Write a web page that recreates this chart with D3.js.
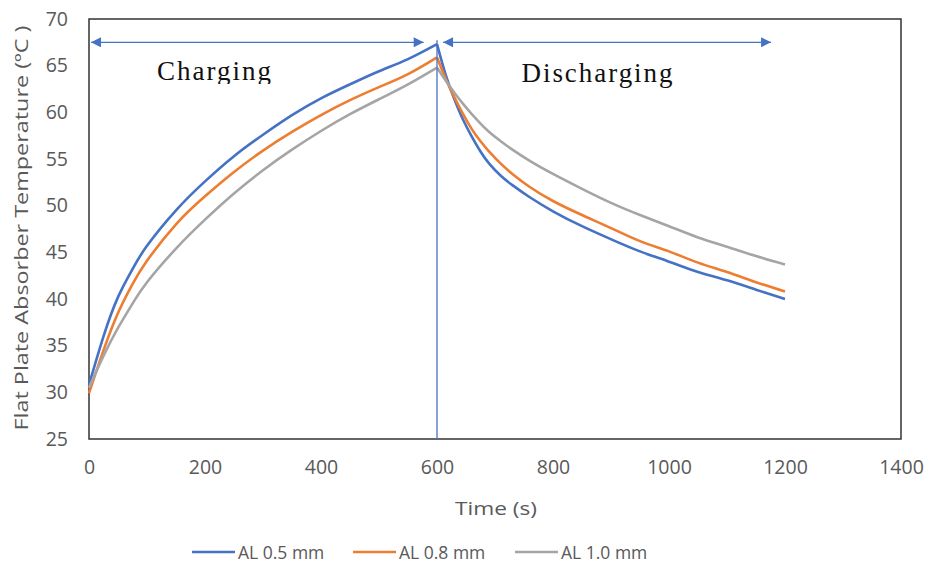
<!DOCTYPE html>
<html>
<head>
<meta charset="utf-8">
<style>
  body { margin: 0; background: #fff; }
  .tick text { fill: #595959; font-family: "Open Sans", sans-serif; font-size: 19.5px; }
</style>
<script src="https://cdn.jsdelivr.net/npm/d3@7"></script>
</head>
<body>
<svg id="chart" width="927" height="563"></svg>
<script>
const times = [0, 25, 50, 75, 100, 150, 200, 250, 300, 350, 400, 450, 500, 550, 600,
  615, 630, 645, 660, 675, 690, 710, 730, 760, 800, 850, 900, 950, 1000, 1050, 1100, 1150, 1200];

const al05 = [30.8, 36.0, 40.2, 43.2, 45.7, 49.5, 52.6, 55.3, 57.6, 59.7, 61.5, 63.0, 64.4, 65.7, 67.3,
  64.0, 61.4, 59.2, 57.4, 55.8, 54.5, 53.2, 52.2, 50.9, 49.4, 47.8, 46.4, 45.1, 44.0, 42.9, 42.0, 41.0, 40.0];
const al08 = [29.9, 34.5, 38.5, 41.6, 44.1, 48.0, 51.0, 53.6, 55.9, 57.9, 59.7, 61.3, 62.7, 64.1, 65.9,
  63.6, 61.6, 59.8, 58.2, 56.9, 55.8, 54.5, 53.4, 52.0, 50.5, 49.0, 47.6, 46.2, 45.1, 43.9, 42.9, 41.8, 40.8];
const al10 = [30.5, 33.9, 36.9, 39.5, 41.8, 45.4, 48.5, 51.3, 53.8, 56.0, 58.0, 59.8, 61.4, 63.0, 64.8,
  63.4, 62.1, 60.9, 59.8, 58.8, 57.9, 56.9, 56.0, 54.8, 53.4, 51.8, 50.3, 49.0, 47.8, 46.6, 45.6, 44.6, 43.7];

const seriesNames = ["AL 0.5 mm", "AL 0.8 mm", "AL 1.0 mm"];
const seriesColors = ["#4472C4", "#ED7D31", "#A5A5A5"];

const xTicks = [0, 200, 400, 600, 800, 1000, 1200, 1400];
const yTicks = [25, 30, 35, 40, 45, 50, 55, 60, 65, 70];

// annotation arrows (time range, temperature level)
const arrowLevel = 67.5;
const chargeArrow = [0, 577];
const dischargeArrow = [607, 1176];
const switchTime = 600;

const svg = d3.select("#chart");
const plotL = 89, plotR = 901, plotT = 19, plotB = 439;

const x = d3.scaleLinear().domain([0, 1400]).range([plotL, plotR]);
const y = d3.scaleLinear().domain([25, 70]).range([plotB, plotT]);

// axes (labels only)
svg.append("g")
  .attr("transform", `translate(0,${plotB})`)
  .call(d3.axisBottom(x).tickValues(xTicks).tickFormat(d3.format("d")).tickSize(0).tickPadding(21))
  .call(g => g.select(".domain").remove());

svg.append("g")
  .attr("transform", `translate(${plotL},0)`)
  .call(d3.axisLeft(y).tickValues(yTicks).tickSize(0).tickPadding(21))
  .call(g => g.select(".domain").remove());

// plot border
svg.append("rect")
  .attr("x", plotL).attr("y", plotT)
  .attr("width", plotR - plotL).attr("height", plotB - plotT)
  .attr("fill", "none").attr("stroke", "#333").attr("stroke-width", 1.5);

// series, drawn as charging + discharging parts so the peak stays sharp
const data = [al05, al08, al10];
const line = d3.line()
  .x(d => x(d[0]))
  .y(d => y(d[1]))
  .curve(d3.curveNatural);

const parts = [];
data.forEach((vals, s) => {
  const pts = times.map((t, i) => [t, vals[i]]);
  parts.push({ s, pts: pts.filter(p => p[0] <= switchTime) });
  parts.push({ s, pts: pts.filter(p => p[0] >= switchTime) });
});

svg.append("g").selectAll("path")
  .data(parts)
  .join("path")
  .attr("d", d => line(d.pts))
  .attr("fill", "none")
  .attr("stroke", d => seriesColors[d.s])
  .attr("stroke-width", 2.6)
  .attr("stroke-linejoin", "round");

// annotations
const blue = "#4472C4";
const defs = svg.append("defs");
defs.append("marker")
  .attr("id", "head")
  .attr("viewBox", "0 0 10 10")
  .attr("refX", 10).attr("refY", 5)
  .attr("markerWidth", 12).attr("markerHeight", 10)
  .attr("markerUnits", "userSpaceOnUse")
  .attr("orient", "auto-start-reverse")
  .append("path")
  .attr("d", "M0,0L10,5L0,10Z")
  .attr("fill", blue);

[chargeArrow, dischargeArrow].forEach(r => {
  svg.append("line")
    .attr("x1", x(r[0]) + 2).attr("x2", x(r[1]))
    .attr("y1", y(arrowLevel)).attr("y2", y(arrowLevel))
    .attr("stroke", blue).attr("stroke-width", 1.3)
    .attr("marker-start", "url(#head)")
    .attr("marker-end", "url(#head)");
});

svg.append("line")
  .attr("x1", x(switchTime)).attr("x2", x(switchTime))
  .attr("y1", y(arrowLevel) - 2).attr("y2", plotB)
  .attr("stroke", blue).attr("stroke-width", 1.3);

defs.append("clipPath").attr("id", "cutText")
  .append("rect").attr("x", 0).attr("y", 0).attr("width", 927).attr("height", 84);

svg.append("text")
  .attr("x", 214).attr("y", 80)
  .attr("text-anchor", "middle")
  .attr("clip-path", "url(#cutText)")
  .attr("font-family", "'Liberation Serif', serif")
  .attr("font-size", 27)
  .attr("textLength", 114)
  .attr("fill", "#111")
  .text("Charging");

svg.append("text")
  .attr("x", 597).attr("y", 82)
  .attr("text-anchor", "middle")
  .attr("font-family", "'Liberation Serif', serif")
  .attr("font-size", 27)
  .attr("textLength", 151)
  .attr("fill", "#111")
  .text("Discharging");

// axis titles
svg.append("text")
  .attr("x", 496).attr("y", 515)
  .attr("text-anchor", "middle")
  .attr("font-family", "'Open Sans', sans-serif")
  .attr("font-size", 19)
  .attr("textLength", 82)
  .attr("lengthAdjust", "spacingAndGlyphs")
  .attr("fill", "#595959")
  .text("Time (s)");

svg.append("text")
  .attr("transform", "translate(28,228) rotate(-90)")
  .attr("text-anchor", "middle")
  .attr("font-family", "'Open Sans', sans-serif")
  .attr("font-size", 18.5)
  .attr("textLength", 405)
  .attr("lengthAdjust", "spacingAndGlyphs")
  .attr("fill", "#595959")
  .text("Flat Plate Absorber Temperature (ºC )");

// legend
const legendX = [192, 353, 515];
const legend = svg.append("g").selectAll("g")
  .data(seriesNames)
  .join("g")
  .attr("transform", (d, i) => `translate(${legendX[i]},552)`);

legend.append("line")
  .attr("x1", 0).attr("x2", 43)
  .attr("stroke", (d, i) => seriesColors[i])
  .attr("stroke-width", 2.6);

legend.append("text")
  .attr("x", 46).attr("y", 6.5)
  .attr("font-family", "'Open Sans', sans-serif")
  .attr("font-size", 17.5)
  .attr("fill", "#595959")
  .text(d => d);
</script>
</body>
</html>
